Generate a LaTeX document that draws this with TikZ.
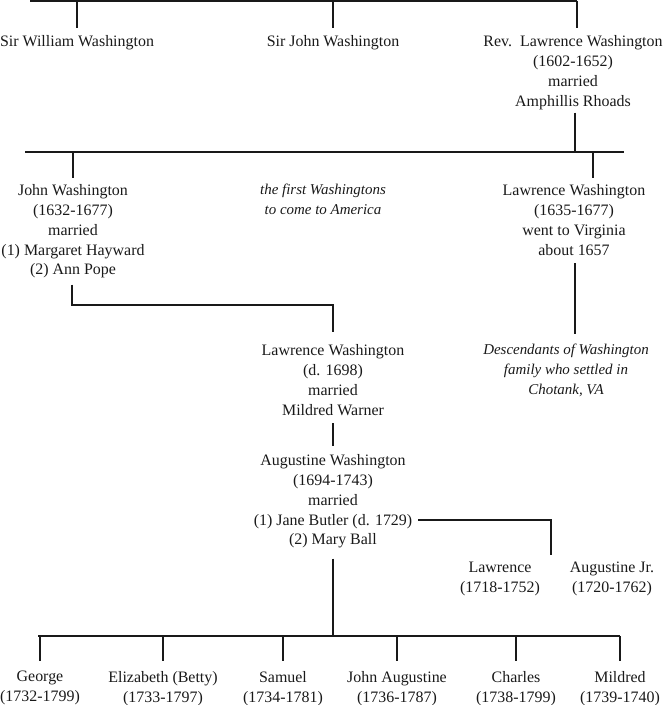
\documentclass[tikz,border=0pt]{standalone}
\usepackage{fontspec}
\setmainfont{Liberation Serif}
\usetikzlibrary{calc}
\begin{document}
\begin{tikzpicture}[x=1bp,y=-1bp,
  person/.style={align=center, inner sep=0pt, anchor=north, text=black!90, font=\fontsize{16}{20}\selectfont},
  note/.style={person, font=\fontsize{15}{20}\selectfont\itshape},
  link/.style={line width=1.1bp, black!90}]
\useasboundingbox (0,0) rectangle (663,705);
% generation 1
\node[person] (sw) at (77,35) {Sir William Washington};
\node[person] (sj) at (333,35) {Sir John Washington};
\node[person] (rl) at (573,35) {Rev.\ \ Lawrence Washington\\(1602-1652)\\married\\Amphillis Rhoads};
% generation 2
\node[person] (jw) at (73,184) {John Washington\\(1632-1677)\\married\\(1) Margaret Hayward\\(2) Ann Pope};
\node[note] (fw) at (323,184) {the first Washingtons\\to come to America};
\node[person] (lw) at (574,184) {Lawrence Washington\\(1635-1677)\\went to Virginia\\about 1657};
% generation 3
\node[person] (lw2) at (333,344) {Lawrence Washington\\(d. 1698)\\married\\Mildred Warner};
\node[note] (desc) at (566,344) {Descendants of Washington\\family who settled in\\Chotank, VA};
% generation 4
\node[person] (aw) at (333,454) {Augustine Washington\\(1694-1743)\\married\\(1) Jane Butler (d. 1729)\\(2) Mary Ball};
\node[person] (la) at (500,562) {Lawrence\\(1718-1752)};
\node[person] (aj) at (612,562) {Augustine Jr.\\(1720-1762)};
% generation 5
\node[person] (c1) at (40,671) {George\\(1732-1799)};
\node[person] (c2) at (163,671) {Elizabeth (Betty)\\(1733-1797)};
\node[person] (c3) at (283,671) {Samuel\\(1734-1781)};
\node[person] (c4) at (397,671) {John Augustine\\(1736-1787)};
\node[person] (c5) at (516,671) {Charles\\(1738-1799)};
\node[person] (c6) at (620,671) {Mildred\\(1739-1740)};
% bars
\coordinate (t0) at (30,1);
\coordinate (t1) at (577,1);
\coordinate (b0) at (25,152);
\coordinate (b1) at (624,152);
\coordinate (rd) at (575,152);
\coordinate (lwd) at (593,152);
\coordinate (jk) at (72,305);
\coordinate (lk) at (333,305);
\coordinate (jb) at (418,520);
\coordinate (jbk) at (551,520);
\coordinate (k0) at (38,636);
\coordinate (k1) at (620,636);
\coordinate (km) at (333,636);
\draw[link] (t0) -- (t1);
\draw[link] (sw.north |- t0) -- ($(sw.north)+(0,-7)$);
\draw[link] (sj.north |- t0) -- ($(sj.north)+(0,-7)$);
\draw[link] (t1) -- ($(t1 |- rl.north)+(0,-7)$);
\draw[link] ($(rd |- rl.south)+(0,3)$) -- (rd);
\draw[link] (b0) -- (b1);
\draw[link] (jw.north |- b0) -- ($(jw.north)+(0,-6)$);
\draw[link] (lwd) -- ($(lwd |- lw.north)+(0,-6)$);
\draw[link] ($(jk |- jw.south)+(0,6)$) -- (jk) -- (lk) -- ($(lw2.north)+(0,-12)$);
\draw[link] ($(rd |- lw.south)+(0,8)$) -- ($(rd |- desc.north)+(0,-10)$);
\draw[link] ($(lw2.south)+(0,8)$) -- ($(aw.north)+(0,-8)$);
\draw[link] (jb) -- (jbk) -- ($(jbk |- la.north)+(0,-7)$);
\draw[link] ($(aw.south)+(0,10)$) -- (km);
\draw[link] (k0) -- (k1);
\foreach \c in {c1,c2,c3,c4,c5,c6}
  \draw[link] (\c.north |- k0) -- ($(\c.north)+(0,-10)$);
\end{tikzpicture}
\end{document}
